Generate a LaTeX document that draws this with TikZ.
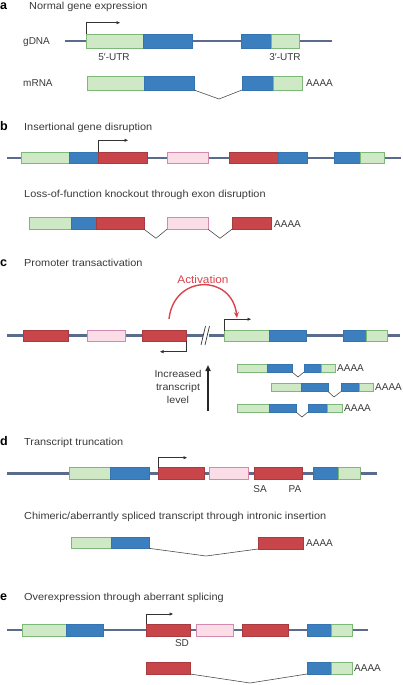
\documentclass[tikz,border=0pt]{standalone}
\usepackage{fontspec}
\setmainfont{Liberation Sans}
\newfontfamily\widefont[FakeStretch=1.07]{Liberation Sans}
\usetikzlibrary{arrows.meta}
\definecolor{gfill}{HTML}{CFE8C6}
\definecolor{gline}{HTML}{7DB878}
\definecolor{bfill}{HTML}{3B7FBF}
\definecolor{bline}{HTML}{3574B0}
\definecolor{rfill}{HTML}{C8454A}
\definecolor{rline}{HTML}{A83B40}
\definecolor{pfill}{HTML}{FBDDE8}
\definecolor{pline}{HTML}{D48AAE}
\definecolor{dnacol}{HTML}{5B6B8B}
\definecolor{txt}{HTML}{3A3A3A}
\definecolor{actred}{HTML}{D9434B}
\newcommand\exon[6]{\node[#2, anchor=north west, minimum width={#4-#3}, minimum height={#6-#5}] (#1) at (#3,#5) {};}
\tikzset{
  box/.style={draw, rectangle, inner sep=0pt, outer sep=0pt, line width=0.6pt},
  gr/.style={box, fill=gfill, draw=gline},
  bl/.style={box, fill=bfill, draw=bline},
  rd/.style={box, fill=rfill, draw=rline},
  pk/.style={box, fill=pfill, draw=pline},
  dna/.style={line width=2.4pt, draw=dnacol},
  prom/.style={line width=0.7pt, draw=black!80, -{Triangle[length=3.5pt,width=3pt]}},
  splice/.style={line width=0.6pt, draw=black!70},
  lab/.style={font=\fontsize{10}{12}\selectfont, text=txt, inner sep=0pt},
  lbw/.style={lab, anchor=base west},
  ttl/.style={lab, font=\widefont\fontsize{10.2}{12}\selectfont, anchor=base west},
  cen/.style={lab, anchor=base},
  pan/.style={font=\fontsize{12.5}{14}\selectfont\bfseries, text=black, anchor=base west, inner sep=0pt},
}
\begin{document}
\begin{tikzpicture}[x=1pt,y=-1pt]
\useasboundingbox (0,0) rectangle (403,685);
% ---------- a ----------
\node[pan] (pa) at (0,9.6) {a};
\node[ttl] (ta) at (29,9.6) {Normal gene expression};
\coordinate (aL) at (65,41.3); \coordinate (aR) at (332,41.3);
\draw[dna] (aL) -- (aR);
\exon{a1}{gr}{86}{143}{34.3}{48.3}
\exon{a2}{bl}{143}{192}{34.3}{48.3}
\exon{a3}{bl}{241}{271}{34.3}{48.3}
\exon{a4}{gr}{271}{299}{34.3}{48.3}
\draw[prom] (a1.north west) -- ++(0,-11.6) -- ++(34,0);
\node[lbw] (gdna) at (23,45) {gDNA};
\node[cen] (utr5) at (114,61) {5′-UTR};
\node[cen] (utr3) at (285,61) {3′-UTR};
\node[lbw] (mrna) at (23,86.5) {mRNA};
\exon{m1}{gr}{87}{144}{76}{90}
\exon{m2}{bl}{144}{194}{76}{90}
\exon{m3}{bl}{242}{273}{76}{90}
\exon{m4}{gr}{273}{302}{76}{90}
\coordinate (ms) at (219,99);
\draw[splice] (m2.south east) -- (ms) -- (m3.south west);
\node[lbw] (aaa1) at (306,86.5) {AAAA};
% ---------- b ----------
\node[pan] (pb) at (0,130.5) {b};
\node[ttl] (tb) at (24,130.5) {Insertional gene disruption};
\coordinate (bL) at (7,157.7); \coordinate (bR) at (401,157.7);
\draw[dna] (bL) -- (bR);
\exon{b1}{gr}{21}{69}{152.3}{163.7}
\exon{b2}{bl}{69}{98}{152.3}{163.7}
\exon{b3}{rd}{98}{147}{152.3}{163.7}
\exon{b4}{pk}{167}{208}{152.3}{163.7}
\exon{b5}{rd}{229}{278}{152.3}{163.7}
\exon{b6}{bl}{278}{307}{152.3}{163.7}
\exon{b7}{bl}{334}{360}{152.3}{163.7}
\exon{b8}{gr}{360}{384}{152.3}{163.7}
\draw[prom] (b3.north west) -- ++(0,-12) -- ++(30,0);
\node[ttl] (sb) at (24,197.7) {Loss-of-function knockout through exon disruption};
\exon{bm1}{gr}{29}{71}{217.7}{229.2}
\exon{bm2}{bl}{71}{96}{217.7}{229.2}
\exon{bm3}{rd}{96}{144}{217.7}{229.2}
\exon{bm4}{pk}{167}{208}{217.7}{229.2}
\exon{bm5}{rd}{232}{271}{217.7}{229.2}
\coordinate (bs1) at (156,238.3); \coordinate (bs2) at (220,238.3);
\draw[splice] (bm3.south east) -- (bs1) -- (bm4.south west);
\draw[splice] (bm4.south east) -- (bs2) -- (bm5.south west);
\node[lbw] (aaa2) at (274,227) {AAAA};
% ---------- c ----------
\node[pan] (pc) at (0,266.7) {c};
\node[ttl] (tc) at (24,266.7) {Promoter transactivation};
\coordinate (cL) at (7,335.5); \coordinate (cM1) at (203,335.5);
\coordinate (cM2) at (209,335.5); \coordinate (cR) at (400,335.5);
\draw[dna] (cL) -- (cM1);
\draw[dna] (cM2) -- (cR);
\coordinate (k1a) at (201,345); \coordinate (k1b) at (205.5,326);
\coordinate (k2a) at (205,345); \coordinate (k2b) at (209.5,326);
\draw[line width=0.7pt, draw=black!80] (k1a) -- (k1b);
\draw[line width=0.7pt, draw=black!80] (k2a) -- (k2b);
\exon{c1}{rd}{23}{68}{330.5}{341}
\exon{c2}{pk}{87}{125}{330.5}{341}
\exon{c3}{rd}{142}{186}{330.5}{341}
\exon{c4}{gr}{224}{269}{330.5}{341}
\exon{c5}{bl}{269}{306}{330.5}{341}
\exon{c6}{bl}{343}{366}{330.5}{341}
\exon{c7}{gr}{366}{387}{330.5}{341}
\draw[prom] (c4.north west) -- ++(0,-11.3) -- ++(27,0);
\draw[prom] (c3.south east) -- ++(0,10.7) -- ++(-26,0);
\coordinate (actS) at (169,319); \coordinate (actE) at (237,318);
\draw[line width=1.4pt, draw=actred, -{Stealth[length=6pt,width=5pt]}] (actS) .. controls (174,274) and (232,274) .. (actE);
\node[cen, text=actred, font=\widefont\fontsize{11}{13}\selectfont] (act) at (203,283) {Activation};
\coordinate (upB) at (208,411); \coordinate (upT) at (208,365);
\draw[line width=1.6pt, draw=black!85, -{Triangle[length=6pt,width=5pt]}] (upB) -- (upT);
\node[lab, align=center, font=\widefont\fontsize{10}{12.7}\selectfont] (inc) at (178,387) {Increased\\transcript\\level};
% transcripts
\exon{t11}{gr}{237}{267}{364}{372}
\exon{t12}{bl}{267}{292}{364}{372}
\exon{t13}{bl}{304}{321}{364}{372}
\exon{t14}{gr}{321}{335}{364}{372}
\coordinate (ts1) at (298,377);
\draw[splice] (t12.south east) -- (ts1) -- (t13.south west);
\node[lbw] (aaa3) at (337,371.6) {AAAA};
\exon{t21}{gr}{271}{301}{383}{391.5}
\exon{t22}{bl}{301}{328}{383}{391.5}
\exon{t23}{bl}{341}{359}{383}{391.5}
\exon{t24}{gr}{359}{373}{383}{391.5}
\coordinate (ts2) at (334,397);
\draw[splice] (t22.south east) -- (ts2) -- (t23.south west);
\node[lbw] (aaa4) at (375,390.8) {AAAA};
\exon{t31}{gr}{237}{269}{404}{412}
\exon{t32}{bl}{269}{296}{404}{412}
\exon{t33}{bl}{308}{327}{404}{412}
\exon{t34}{gr}{327}{342}{404}{412}
\coordinate (ts3) at (302,417);
\draw[splice] (t32.south east) -- (ts3) -- (t33.south west);
\node[lbw] (aaa5) at (344,411.6) {AAAA};
% ---------- d ----------
\node[pan] (pd) at (0,445) {d};
\node[ttl] (td) at (24,445) {Transcript truncation};
\coordinate (dL) at (7,473.3); \coordinate (dR) at (377,473.3);
\draw[dna] (dL) -- (dR);
\exon{d1}{gr}{69}{110}{467.7}{479.3}
\exon{d2}{bl}{110}{149}{467.7}{479.3}
\exon{d3}{rd}{158}{204}{467.7}{479.3}
\exon{d4}{pk}{209}{248}{467.7}{479.3}
\exon{d5}{rd}{254}{302}{467.7}{479.3}
\exon{d6}{bl}{313}{338}{467.7}{479.3}
\exon{d7}{gr}{338}{360}{467.7}{479.3}
\draw[prom] (d3.north west) -- ++(0,-10) -- ++(29,0);
\node[cen] (sa) at (260,492.6) {SA};
\node[cen] (pa2) at (295,492.6) {PA};
\node[ttl] (sd) at (24,519) {Chimeric/aberrantly spliced transcript through intronic insertion};
\exon{dm1}{gr}{71}{111}{537.7}{548.3}
\exon{dm2}{bl}{111}{149}{537.7}{548.3}
\exon{dm3}{rd}{258}{303}{537}{549}
\coordinate (ds1) at (206,556);
\draw[splice] (dm2.south east) -- (ds1) -- (dm3.south west);
\node[lbw] (aaa6) at (306,546.6) {AAAA};
% ---------- e ----------
\node[pan] (pe) at (0,600) {e};
\node[ttl] (te) at (24,600) {Overexpression through aberrant splicing};
\coordinate (eL) at (7,630); \coordinate (eR) at (368,630);
\draw[dna] (eL) -- (eR);
\exon{e1}{gr}{22}{66}{624.3}{636}
\exon{e2}{bl}{66}{103}{624.3}{636}
\exon{e3}{rd}{146}{190}{624.3}{636}
\exon{e4}{pk}{196}{233}{624.3}{636}
\exon{e5}{rd}{242}{288}{624.3}{636}
\exon{e6}{bl}{307}{331}{624.3}{636}
\exon{e7}{gr}{331}{352}{624.3}{636}
\draw[prom] (e3.north west) -- ++(0,-10.3) -- ++(27,0);
\node[cen] (sdl) at (182,646.3) {SD};
\exon{em1}{rd}{146}{190}{662.3}{674}
\exon{em2}{bl}{307}{331}{662.3}{674}
\exon{em3}{gr}{331}{352}{662.3}{674}
\coordinate (es1) at (250,683);
\draw[splice] (em1.south east) -- (es1) -- (em2.south west);
\node[lbw] (aaa7) at (354,671.6) {AAAA};
\end{tikzpicture}
\end{document}
